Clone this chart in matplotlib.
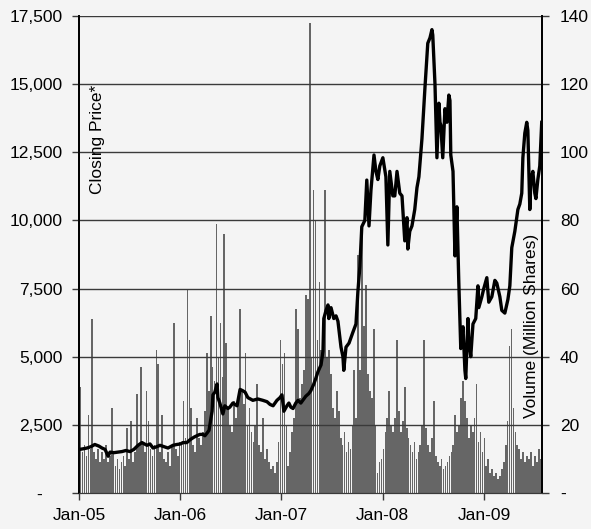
import pandas as pd
import numpy as np
import matplotlib
matplotlib.use("Agg")
import matplotlib.pyplot as plt
import matplotlib.dates as mdates
from matplotlib.ticker import FuncFormatter, MultipleLocator

plt.rcParams['font.family'] = ['Liberation Sans', 'DejaVu Sans']

# closing price
price_dates = [
    '2005-01-03', '2005-01-15', '2005-01-30', '2005-02-13', '2005-02-27', '2005-03-14',
    '2005-03-25', '2005-04-05', '2005-04-16', '2005-04-23', '2005-05-07', '2005-05-22',
    '2005-06-05', '2005-06-19', '2005-07-04', '2005-07-18', '2005-08-02', '2005-08-16',
    '2005-09-03', '2005-09-14', '2005-09-25', '2005-10-09', '2005-10-20', '2005-11-03',
    '2005-11-18', '2005-12-06', '2005-12-20', '2006-01-02',
    '2006-01-11', '2006-01-25', '2006-02-05', '2006-02-20', '2006-03-02', '2006-03-13',
    '2006-03-24', '2006-03-31', '2006-04-08', '2006-04-15', '2006-04-26', '2006-04-29',
    '2006-05-06', '2006-05-14', '2006-05-17', '2006-05-24', '2006-06-04', '2006-06-11',
    '2006-06-22', '2006-06-29', '2006-07-10', '2006-07-25', '2006-08-05', '2006-08-15',
    '2006-08-23', '2006-09-02', '2006-09-20', '2006-10-08', '2006-10-26', '2006-11-10',
    '2006-11-21', '2006-12-02', '2006-12-16', '2006-12-27', '2007-01-03',
    '2007-01-10', '2007-01-21', '2007-01-28', '2007-02-04', '2007-02-12', '2007-02-22',
    '2007-03-02', '2007-03-12', '2007-03-23', '2007-03-30', '2007-04-10', '2007-04-17',
    '2007-04-28', '2007-05-05', '2007-05-13', '2007-05-24', '2007-05-31', '2007-06-03',
    '2007-06-11', '2007-06-18', '2007-06-21', '2007-06-29', '2007-07-09', '2007-07-17',
    '2007-07-24', '2007-08-04', '2007-08-11', '2007-08-14', '2007-08-22', '2007-09-02',
    '2007-09-16', '2007-09-27', '2007-10-04', '2007-10-11', '2007-10-18', '2007-10-29',
    '2007-11-05', '2007-11-13', '2007-11-20', '2007-12-01', '2007-12-08', '2007-12-15',
    '2007-12-22',
    '2008-01-02', '2008-01-13', '2008-01-20', '2008-01-27', '2008-02-07', '2008-02-14',
    '2008-02-22', '2008-03-03', '2008-03-11', '2008-03-21', '2008-03-29', '2008-04-01',
    '2008-04-08', '2008-04-16', '2008-04-26', '2008-05-04', '2008-05-11', '2008-05-22',
    '2008-06-02', '2008-06-12', '2008-06-20', '2008-06-27', '2008-06-30', '2008-07-08',
    '2008-07-15', '2008-07-22', '2008-07-26', '2008-07-29', '2008-08-05', '2008-08-13',
    '2008-08-20', '2008-08-27', '2008-08-31', '2008-09-03', '2008-09-11', '2008-09-14',
    '2008-09-18', '2008-09-25', '2008-10-02', '2008-10-09', '2008-10-17', '2008-10-24',
    '2008-10-27', '2008-11-04', '2008-11-07', '2008-11-14', '2008-11-22', '2008-12-02',
    '2008-12-10', '2008-12-13', '2008-12-24', '2008-12-31',
    '2009-01-11', '2009-01-18', '2009-01-29', '2009-02-09', '2009-02-16', '2009-02-27',
    '2009-03-06', '2009-03-17', '2009-03-28', '2009-04-04', '2009-04-11', '2009-04-22',
    '2009-05-03', '2009-05-10', '2009-05-17', '2009-05-21', '2009-05-28', '2009-06-04',
    '2009-06-08', '2009-06-15', '2009-06-19', '2009-06-26', '2009-07-03', '2009-07-07',
    '2009-07-14', '2009-07-21', '2009-07-28',
]
price_values = [
    1600, 1620, 1650, 1700, 1780, 1720, 1650, 1600, 1350, 1500, 1480, 1500,
    1520, 1560, 1520, 1600, 1750, 1850, 1750, 1800, 1650, 1700, 1750, 1700,
    1650, 1750, 1780, 1800,
    1850, 1850, 1950, 2050, 2100, 2150, 2150, 2100, 2200, 2300, 3000, 3600,
    3700, 4000, 3500, 3300, 2900, 3200, 3100, 3150, 3300, 3200, 3800, 3750,
    3700, 3500, 3400, 3450, 3400, 3350, 3250, 3200, 3400, 3500, 3600,
    3000, 3200, 3300, 3150, 3100, 3300, 3400, 3300, 3450, 3550, 3650, 3750,
    4000, 4200, 4450, 4700, 5200, 6400, 6700, 6900, 6400, 6800, 6400, 6500,
    6300, 5350, 5000, 4500, 5350, 5500, 5900, 6200, 7400, 8300, 9770, 10000,
    11480, 9800, 11100, 12400, 11800, 11500, 12000,
    12300, 11600, 9100, 11800, 10900, 10900, 11800, 11000, 10900, 9250, 10100, 8950,
    9600, 9800, 10400, 11200, 11600, 13000, 14900, 16500, 16700, 17000, 16800, 15000,
    12300, 14300, 13600, 13500, 12300, 14100, 13600, 14600, 14400, 12400, 11800, 10500,
    8700, 10500, 7700, 5300, 6100, 4500, 4200, 6400, 5600, 5000, 6200, 6400,
    7600, 6800, 7200, 7500,
    7900, 7000, 7200, 7800, 7700, 7200, 6700, 6600, 7100, 7600, 9000, 9600,
    10400, 10600, 11000, 12300, 13200, 13600, 13300, 10400, 11500, 11800, 11000, 10800,
    11500, 12000, 13600,
]

# weekly volume in million shares
vol_week_start = '2005-01-07'
volume_values = [
    31, 12, 14, 11, 23, 13, 51, 12, 10, 13, 9, 12, 10, 14, 9, 11, 25, 12, 8, 10,
    7, 9, 11, 8, 19, 10, 21, 9, 12, 29, 14, 37, 15, 12, 30, 21, 13, 11, 14, 42,
    38, 12, 23, 10, 9, 12, 8, 14, 50, 13, 11, 15, 14, 27, 16, 60, 45, 25, 14, 12,
    22, 16, 14, 18, 24, 41, 30, 52, 37, 33, 79, 40, 50, 34, 76, 44, 25, 20, 18, 27,
    22, 28, 54, 30, 26, 41, 20, 25, 18, 15, 20, 32, 14, 12, 22, 10, 13, 9, 7, 8,
    6, 9, 15, 45, 38, 41, 20, 8, 12, 18, 22, 54, 48, 28, 32, 36, 58, 57, 138, 40,
    89, 80, 45, 62, 42, 44, 89, 40, 42, 35, 25, 22, 30, 24, 16, 14, 18, 12, 15, 13,
    20, 36, 22, 70, 36, 77, 49, 61, 35, 30, 28, 48, 20, 6, 9, 10, 13, 18, 22, 30,
    20, 18, 22, 45, 24, 18, 21, 31, 19, 16, 14, 12, 15, 10, 12, 14, 20, 45, 19, 14,
    12, 16, 27, 11, 9, 8, 10, 7, 8, 9, 11, 12, 14, 23, 18, 20, 28, 33, 27, 22,
    16, 20, 18, 22, 32, 15, 18, 12, 16, 8, 10, 6, 7, 5, 6, 4, 5, 7, 9, 14,
    21, 43, 48, 25, 18, 14, 13, 10, 12, 9, 11, 10, 12, 8, 11, 9, 13, 10, 12,
]

left_ticks = [0, 2500, 5000, 7500, 10000, 12500, 15000, 17500]
right_ticks = [0, 20, 40, 60, 80, 100, 120, 140]

bg = '#f4f4f4'
fig = plt.figure(figsize=(5.91, 5.29), dpi=100, facecolor=bg)
ax_vol = fig.add_axes([79 / 591, 36 / 529, 463 / 591, 477 / 529])
ax = ax_vol.twinx()
ax.set_zorder(ax_vol.get_zorder() + 1)
ax.patch.set_visible(False)
ax_vol.set_facecolor(bg)

pdates = pd.to_datetime(price_dates)
vdates = pd.date_range(vol_week_start, periods=len(volume_values), freq='7D')

ax_vol.bar(vdates, volume_values, width=6.0, color='#666666', linewidth=0)
ax.plot(pdates, price_values, color='black', lw=2.4, solid_joinstyle='round', zorder=5)

# price axis on the left, volume on the right
ax.yaxis.tick_left()
ax_vol.yaxis.tick_right()
ax.set_ylim(0, 17500)
ax_vol.set_ylim(0, 140)
ax.set_yticks(left_ticks)
ax_vol.set_yticks(right_ticks)
ax.yaxis.set_major_formatter(FuncFormatter(lambda v, p: '-    ' if v == 0 else f'{v:,.0f}'))
ax_vol.yaxis.set_major_formatter(FuncFormatter(lambda v, p: '-' if v == 0 else f'{v:.0f}'))
for v in left_ticks[1:]:
    ax.axhline(v, color='#3a3a3a', lw=1.0, zorder=1)

ax.set_xlim(pd.Timestamp('2005-01-01'), pd.Timestamp('2009-07-29'))
ax_vol.set_xlim(pd.Timestamp('2005-01-01'), pd.Timestamp('2009-07-29'))
ax_vol.xaxis.set_major_locator(mdates.YearLocator())
ax_vol.xaxis.set_major_formatter(mdates.DateFormatter('%b-%y'))
ax.tick_params(axis='x', which='both', bottom=False, top=False, labelbottom=False)

for a in (ax, ax_vol):
    a.tick_params(axis='both', labelsize=12.5, length=5, width=1, color='#3a3a3a',
                  direction='out')
ax.tick_params(axis='y', pad=7)
ax_vol.tick_params(axis='y', pad=8)
ax_vol.tick_params(axis='x', pad=6)

for a in (ax, ax_vol):
    a.spines['top'].set_visible(False)
    a.spines['left'].set_color('black')
    a.spines['right'].set_color('black')
    a.spines['left'].set_linewidth(1.3)
    a.spines['right'].set_linewidth(1.3)
    a.spines['bottom'].set_color('#3a3a3a')

ax.text(0.041, 0.855, 'Closing Price*', transform=ax.transAxes, rotation=90,
        ha='center', va='top', fontsize=12.5)
ax.text(0.978, 0.157, 'Volume (Million Shares)', transform=ax.transAxes, rotation=90,
        ha='center', va='bottom', fontsize=12.5)

plt.savefig('out.png', dpi=100, facecolor=bg)
